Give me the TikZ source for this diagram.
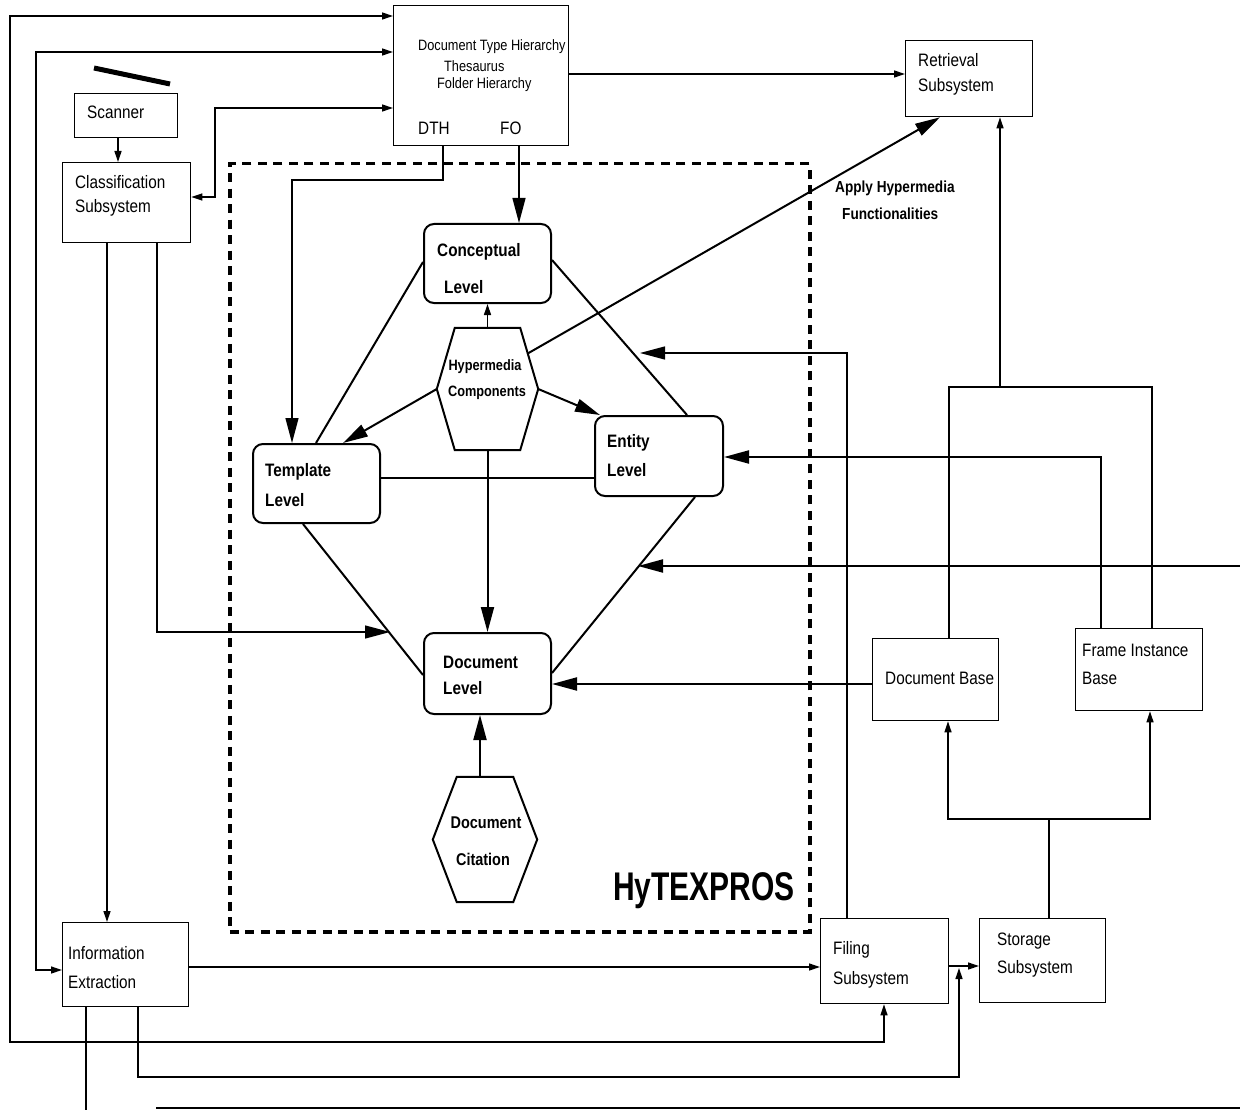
\documentclass[tikz,border=0pt]{standalone}
\usepackage{fontspec}
\setmainfont{Liberation Sans}[FakeStretch=0.85]
\newfontfamily\hyfont{Liberation Sans}[FakeStretch=0.75]
\usetikzlibrary{arrows.meta,calc}
\tikzset{
  box/.style={draw, line width=1.3pt, inner sep=0pt, anchor=north west},
  lvl/.style={draw, line width=2pt, rounded corners=10pt, inner sep=0pt, anchor=north west},
  hexn/.style={inner sep=0pt},
  hexline/.style={line width=2pt, line join=miter},
  tx/.style={anchor=west, inner sep=0pt, font=\fontsize{18}{22}\selectfont},
  tsm/.style={anchor=west, inner sep=0pt, font=\fontsize{15}{19}\selectfont},
  tb/.style={anchor=west, inner sep=0pt, font=\bfseries\fontsize{18}{22}\selectfont},
  thb/.style={inner sep=0pt, font=\bfseries\fontsize{15}{19}\selectfont},
  tcb/.style={inner sep=0pt, font=\bfseries\fontsize{17}{21}\selectfont},
  conn/.style={line width=1.3pt},
  mid/.style={line width=2pt},
  sa/.style={-{Triangle[length=11pt,width=7pt]}},
  sab/.style={{Triangle[length=11pt,width=7pt]}-{Triangle[length=11pt,width=7pt]}},
  ba/.style={-{Triangle[length=25pt,width=13pt]}},
}
\begin{document}
\begin{tikzpicture}[x=1pt,y=-1pt]
\useasboundingbox[fill=white] (0,0) rectangle (1240,1110);

% dashed HyTEXPROS frame
\node[draw, line width=3.5pt, dash pattern=on 9pt off 6.5pt, inner sep=0pt, anchor=north west,
      minimum width=580pt, minimum height=768pt] (frame) at (228,162) {};
\node[anchor=base west, inner sep=0pt, font=\hyfont\bfseries\fontsize{40}{44}\selectfont] (hytx) at (613,900) {HyTEXPROS};

% boxes
\node[box, minimum width=103pt, minimum height=44pt] (scan) at (74,93) {};
\node[tx] (t-scan) at (87,112) {Scanner};
\node[box, minimum width=128pt, minimum height=80pt] (cls) at (62,162) {};
\node[tx] (t-cls1) at (75,182) {Classification};
\node[tx] (t-cls2) at (75,208) {Subsystem};
\node[box, minimum width=175pt, minimum height=140pt] (top) at (393,5) {};
\node[tsm] (t-top1) at (418,47) {Document Type Hierarchy};
\node[tsm] (t-top2) at (444,66) {Thesaurus};
\node[tsm] (t-top3) at (437,85) {Folder Hierarchy};
\node[tx] (t-dth) at (418,128) {DTH};
\node[tx] (t-fo) at (500,128) {FO};
\node[box, minimum width=127pt, minimum height=76pt] (ret) at (905,40) {};
\node[tx] (t-ret1) at (918,60) {Retrieval};
\node[tx] (t-ret2) at (918,87) {Subsystem};
\node[box, minimum width=126pt, minimum height=84pt] (info) at (62,922) {};
\node[tx] (t-info1) at (68,953) {Information};
\node[tx] (t-info2) at (68,982) {Extraction};
\node[box, minimum width=128pt, minimum height=85pt] (fil) at (820,918) {};
\node[tx] (t-fil1) at (833,950) {Filing};
\node[tx] (t-fil2) at (833,980) {Subsystem};
\node[box, minimum width=126pt, minimum height=84pt] (sto) at (979,918) {};
\node[tx] (t-sto1) at (997,941) {Storage};
\node[tx] (t-sto2) at (997,969) {Subsystem};
\node[box, minimum width=126pt, minimum height=82pt] (docb) at (872,638) {};
\node[tx] (t-docb) at (885,678) {Document Base};
\node[box, minimum width=127pt, minimum height=82pt] (fib) at (1075,628) {};
\node[tx] (t-fib1) at (1082,650) {Frame Instance};
\node[tx] (t-fib2) at (1082,678) {Base};

% levels
\node[lvl, minimum width=127pt, minimum height=79pt] (concept) at (423,223) {};
\node[tb] (t-con1) at (437,252) {Conceptual};
\node[tb] (t-con2) at (444,287) {Level};
\node[lvl, minimum width=127pt, minimum height=79pt] (templ) at (252,443) {};
\node[tb] (t-tem1) at (265,472) {Template};
\node[tb] (t-tem2) at (265,500) {Level};
\node[lvl, minimum width=128pt, minimum height=80pt] (entity) at (594,415) {};
\node[tb] (t-ent1) at (607,443) {Entity};
\node[tb] (t-ent2) at (607,470) {Level};
\node[lvl, minimum width=127pt, minimum height=81pt] (doclev) at (423,632) {};
\node[tb] (t-doc1) at (443,662) {Document};
\node[tb] (t-doc2) at (443,688) {Level};

% hexagons
\node[hexn, minimum width=101pt, minimum height=122pt] (hyp) at (487.5,389) {};
\draw[hexline] (hyp.west) -- ($(hyp.north west)+(18,0)$) -- ($(hyp.north east)+(-18,0)$) -- (hyp.east)
   -- ($(hyp.south east)+(-18,0)$) -- ($(hyp.south west)+(18,0)$) -- cycle;
\node[thb] (t-hyp1) at (485,367) {Hypermedia};
\node[thb] (t-hyp2) at (487,393) {Components};
\node[hexn, minimum width=104pt, minimum height=125pt] (cit) at (485,839.5) {};
\draw[hexline] (cit.west) -- ($(cit.north west)+(24,0)$) -- ($(cit.north east)+(-24,0)$) -- (cit.east)
   -- ($(cit.south east)+(-24,0)$) -- ($(cit.south west)+(24,0)$) -- cycle;
\node[tcb] (t-cit1) at (486,823) {Document};
\node[tcb] (t-cit2) at (483,859) {Citation};

% label
\node[tb, font=\bfseries\fontsize{16}{20}\selectfont] (t-app1) at (835,188) {Apply Hypermedia};
\node[tb, font=\bfseries\fontsize{16}{20}\selectfont] (t-app2) at (842,214) {Functionalities};

% scanner bar
\draw[line width=5pt] (94,68) -- (170,84);

% free-end coordinates
\coordinate (cdoc) at (390,632);
\coordinate (cent) at (640,353);
\coordinate (cedge) at (1240,566);
\coordinate (cedgeend) at (638,566);
\coordinate (cbot) at (86,1110);
\coordinate (cbl) at (156,1108);
\coordinate (cbr) at (1240,1108);
\coordinate (csplit) at (1000,387);

% outer connectors
\draw[conn, sab] (top.west |- 0,16) -- (10,16) -- (10,1042) -- (884,1042) -- (fil.south -| 884,0);
\draw[conn, sab] (top.west |- 0,52) -- (36,52) -- (36,970) -- (info.west |- 0,970);
\draw[conn, sab] (top.west |- 0,108) -- (215,108) -- (215,197) -- (cls.east |- 0,197);
\draw[conn, sa] (scan.south -| 118,0) -- (cls.north -| 118,0);
\draw[conn, sa] (cls.south -| 107,0) -- (info.north -| 107,0);
\draw[conn, ba] (cls.south -| 157,0) -- (157,632) -- (cdoc);
\draw[conn, sa] (top.east |- 0,74) -- (ret.west |- 0,74);
\draw[conn, ba] (top.south -| 443,0) -- (443,180) -- (292,180) -- (templ.north -| 292,0);
\draw[conn, ba] (top.south -| 519,0) -- (concept.north -| 519,0);

% level relations
\draw[mid] (concept.west |- 0,262) -- (templ.north -| 316,0);
\draw[mid] (concept.east |- 0,260) -- (entity.north -| 687,0);
\draw[mid] (templ.east |- 0,478) -- (entity.west |- 0,478);
\draw[mid] (templ.south -| 303,0) -- (doclev.west |- 0,675);
\draw[mid] (entity.south -| 695,0) -- (doclev.east |- 0,673);
\draw[conn, sa] (hyp.north) -- (concept.south);
\draw[mid, ba] (hyp.west) -- (templ.north -| 343,0);
\draw[mid, ba] (hyp.east) -- (entity.north -| 600,0);
\draw[mid, ba] (hyp.south) -- (doclev.north);
\draw[mid, ba] ($(hyp.north east)+(-11,26)$) -- (ret.south -| 940,0);
\draw[mid, ba] (cit.north -| 480,0) -- (doclev.south -| 480,0);

% right side
\draw[mid, ba] (docb.west |- 0,684) -- (doclev.east |- 0,684);
\draw[mid, ba] (fib.north -| 1101,0) -- (1101,457) -- (entity.east |- 0,457);
\draw[conn, ba] (fil.north -| 847,0) -- (847,353) -- (cent);
\draw[mid, ba] (cedge) -- (cedgeend);
\draw[conn] (docb.north -| 949,0) -- (949,387) -- (1152,387) -- (fib.north -| 1152,0);
\draw[conn, sa] (csplit) -- (ret.south -| 1000,0);
\draw[conn] (sto.north -| 1049,0) -- (1049,819);
\draw[conn, sab] (docb.south -| 948,0) -- (948,819) -- (1150,819) -- (fib.south -| 1150,0);

% bottom
\draw[conn, sa] (info.east |- 0,967) -- (fil.west |- 0,967);
\draw[conn, sa] (fil.east |- 0,966) -- (sto.west |- 0,966);
\draw[conn, sa] (info.south -| 138,0) -- (138,1077) -- (959,1077) -- (959,968);
\draw[conn] (info.south -| 86,0) -- (cbot);
\draw[line width=2.5pt] (cbl) -- (cbr);
\end{tikzpicture}
\end{document}
